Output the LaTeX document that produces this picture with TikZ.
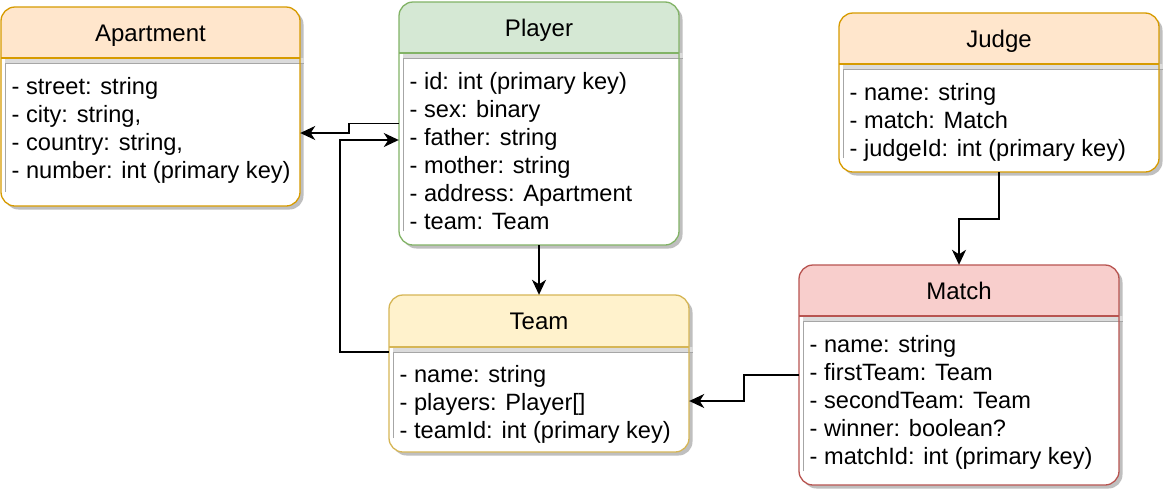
\documentclass[tikz,border=0pt]{standalone}
\usepackage{fontspec}
\setmainfont{Liberation Sans}
\usetikzlibrary{arrows.meta,fit,calc}
\definecolor{aptfill}{HTML}{FFE6CC}
\definecolor{aptdraw}{HTML}{D79B00}
\definecolor{plfill}{HTML}{D5E8D4}
\definecolor{pldraw}{HTML}{82B366}
\definecolor{tmfill}{HTML}{FFF2CC}
\definecolor{tmdraw}{HTML}{D6B656}
\definecolor{mtfill}{HTML}{F8CECC}
\definecolor{mtdraw}{HTML}{B85450}
\newcommand\umlbox[9]{%
  \fill[black!25, rounded corners=14pt] (#2+3.5,#3+3.5) rectangle (#4+3.5,#5+3.5);
  \fill[white, rounded corners=14pt] (#2,#3) rectangle (#4,#5);
  \begin{scope}
    \clip[rounded corners=14pt] (#2,#3) rectangle (#4,#5);
    \fill[#7] (#2,#3) rectangle (#4,#6);
  \end{scope}
  \fill[black!14] (#2+4,#6) rectangle (#4+4,#6+5.5);
  \draw[black!35, line width=1pt] (#2+4,#5-14) -- (#2+4,#6+5.5) -- (#4+4,#6+5.5);
  \draw[#8, line width=1.3pt] (#2,#6) -- (#4,#6);
  \draw[#8, line width=1.3pt, rounded corners=14pt] (#2,#3) rectangle (#4,#5);
  \node[fit={(#2,#3) (#4,#5)}, inner sep=0pt] (#1) {};
  \node[txt, anchor=base] (#1-title) at ({(#2+#4)/2},{(#3+#6)/2+8.5}) {#9};
}
\newcommand\umllines[4]{%
  \foreach \t [count=\i] in {#4} {
    \node[bodytxt, anchor=base west] (#1-l\i) at ({#2+10.5},{#3+36+28*(\i-1)}) {\t};
  }
}
\begin{document}
\begin{tikzpicture}[x=1pt,y=-1pt,
  txt/.style={inner sep=0pt, font=\fontsize{24}{28}\selectfont},
  bodytxt/.style={inner sep=0pt, font=\fontsize{23.6}{28}\selectfont},
  conn/.style={draw, black, line width=1.6pt, -{Stealth[length=15pt,width=14pt,inset=4.5pt]}}]
\useasboundingbox (0,0) rectangle (1166,496);
\fill[white] (0,0) rectangle (1166,496);

\umlbox{apartment}{1}{7}{300}{206}{58}{aptfill}{aptdraw}{Apartment}
\umllines{apartment}{1}{58}{{- street: string},{- city: string,},{- country: string,},{- number: int (primary key)}}

\umlbox{player}{399}{2}{679}{245}{53}{plfill}{pldraw}{Player}
\umllines{player}{399}{53}{{- id: int (primary key)},{- sex: binary},{- father: string},{- mother: string},{- address: Apartment},{- team: Team}}

\umlbox{judge}{839}{13}{1159}{172}{64}{aptfill}{aptdraw}{Judge}
\umllines{judge}{839}{64}{{- name: string},{- match: Match},{- judgeId: int (primary key)}}

\umlbox{team}{389}{295}{689}{452}{347}{tmfill}{tmdraw}{Team}
\umllines{team}{389}{346}{{- name: string},{- players: Player[]},{- teamId: int (primary key)}}

\umlbox{match}{799}{265}{1119}{485}{316}{mtfill}{mtdraw}{Match}
\umllines{match}{799}{316}{{- name: string},{- firstTeam: Team},{- secondTeam: Team},{- winner: boolean?},{- matchId: int (primary key)}}

% connectors
\draw[conn] (player.west) -- (349,123.5) |- (apartment.east |- 0,133);
\draw[conn] (team.west |- 0,352) -- (340,352) |- (player.west |- 0,140);
\draw[conn] (player.south) -- (team.north);
\draw[conn] (judge.south) -- ++(0,47) -| (match.north);
\draw[conn] (match.west) -- (744,375) |- (team.east |- 0,401);
\end{tikzpicture}
\end{document}
